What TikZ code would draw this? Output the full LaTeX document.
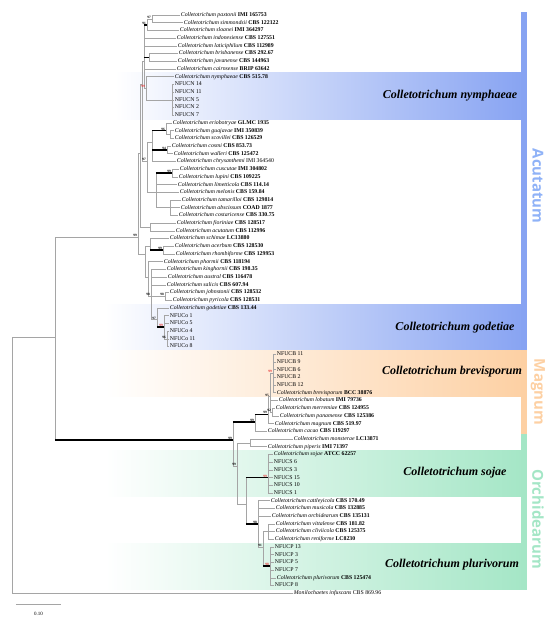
\documentclass[tikz,border=0pt]{standalone}
\usepackage{fontspec}
\setmainfont{Liberation Serif}
\newfontfamily\cladesans{Open Sans}
\definecolor{acublue}{RGB}{135,163,242}
\definecolor{acutext}{RGB}{143,178,247}
\definecolor{magorange}{RGB}{253,208,163}
\definecolor{orcgreen}{RGB}{164,230,198}
\definecolor{branchgray}{RGB}{165,165,165}
\definecolor{bsred}{RGB}{230,40,40}
\newcommand\ct[2]{\textit{Colletotrichum #1} \textbf{#2}}

\begin{document}
\begin{tikzpicture}[x=1pt,y=-7.71pt,
  br/.style={draw=branchgray,line width=0.6pt},
  hi/.style={draw=black,line width=1.6pt},
  tip/.style={anchor=west,inner sep=0.7pt,font=\fontsize{5.8}{6}\selectfont,text height=3.9pt,text depth=1.1pt},
  bsl/.style={anchor=south east,inner sep=0.3pt,xshift=-0.6pt,font=\fontsize{3.4}{4}\selectfont\bfseries},
  redbsl/.style={bsl,text=bsred},
  cname/.style={font=\fontsize{12}{12}\selectfont\bfseries\itshape},
  grpname/.style={rotate=-90,font=\cladesans\bfseries\fontsize{15}{15}\selectfont}]
\useasboundingbox (0,-1.946) rectangle (550,78.6);

% coloured bands and bars
\shade[left color=white,right color=acublue] (115,7.5) rectangle (527,13.5);
\shade[left color=white,right color=acublue] (105,37.5) rectangle (527,43.5);
\shade[left color=white,right color=magorange] (105,43.5) rectangle (527,49.5);
\shade[left color=white,right color=orcgreen] (105,56.5) rectangle (527,62.5);
\shade[left color=white,right color=orcgreen] (105,68.5) rectangle (527,74.5);
\fill[acublue] (521,-0.4) rectangle (527,43.5);
\fill[magorange] (521,43.5) rectangle (527,54.3);
\fill[orcgreen] (521,54.3) rectangle (527,74.5);

\node[cname] (lnym) at (450,10.5) {Colletotrichum nymphaeae};
\node[cname] (lgod) at (455,40.5) {Colletotrichum godetiae};
\node[cname] (lbre) at (452,46.3) {Colletotrichum brevisporum};
\node[cname] (lsoj) at (455,59.4) {Colletotrichum sojae};
\node[cname] (lplu) at (452,71.3) {Colletotrichum plurivorum};
\node[grpname,text=acutext] (gacu) at (538,22.2) {Acutatum};
\node[grpname,text=magorange] (gmag) at (538,48.9) {Magnum};
\node[grpname,text=orcgreen] (gorc) at (538,65.4) {Orchidearum};

% internal nodes
\coordinate (nRoot) at (12,60);
\coordinate (nIn) at (55,41.8);
\coordinate (nAcu) at (138,28.8);
\coordinate (nA) at (140,18);
\coordinate (nC2) at (142,9);
\coordinate (nN) at (144,6);
\coordinate (nP) at (147,1.3);
\coordinate (nP1) at (152,0.5);
\coordinate (nQ) at (149,5.5);
\coordinate (nNym) at (146,9.5);
\coordinate (nNF) at (172,11);
\coordinate (nM) at (147,19);
\coordinate (nN2) at (152,16.5);
\coordinate (nE) at (166,15);
\coordinate (nG) at (170,15.5);
\coordinate (nCw) at (167,17.5);
\coordinate (nLu) at (156,23);
\coordinate (nLu1) at (172,20.5);
\coordinate (nT) at (170,25);
\coordinate (nAF) at (150,27.5);
\coordinate (nB) at (145,31);
\coordinate (nS) at (150,30);
\coordinate (nAR) at (163,30.5);
\coordinate (nB2) at (148,34);
\coordinate (nB3) at (151,36.5);
\coordinate (nJP) at (165,36.5);
\coordinate (nGD) at (157,39.5);
\coordinate (nNFo) at (164,40.5);
\coordinate (nNFo2) at (167,42);
\coordinate (nMO) at (233,55.1);
\coordinate (nMG) at (255,52.8);
\coordinate (nMG1) at (268,51.8);
\coordinate (nMG2) at (270,49.5);
\coordinate (nBR) at (273,46.5);
\coordinate (nMG3) at (272,51.5);
\coordinate (nOR) at (237,58.5);
\coordinate (nOA) at (250,55.5);
\coordinate (nOB) at (246,63.5);
\coordinate (nSJ) at (268,60);
\coordinate (nOC) at (258,66);
\coordinate (nOD) at (263,69);
\coordinate (nOE) at (268,67);
\coordinate (nPL) at (270,71.5);

% tips
\node[tip] (pax) at (180,0) {\ct{paxtonii}{IMI 165753}};
\node[tip] (sim) at (183,1) {\ct{simmondsii}{CBS 122122}};
\node[tip] (slo) at (179,2) {\ct{sloanei}{IMI 364297}};
\node[tip] (ind) at (176,3) {\ct{indonesiense}{CBS 127551}};
\node[tip] (lat) at (177,4) {\ct{laticiphilum}{CBS 112989}};
\node[tip] (bri) at (178,5) {\ct{brisbanense}{CBS 292.67}};
\node[tip] (jav) at (177,6) {\ct{javanense}{CBS 144963}};
\node[tip] (cai) at (176,7) {\ct{cairnsense}{BRIP 63642}};
\node[tip] (nym) at (174,8) {\ct{nymphaeae}{CBS 515.78}};
\node[tip] (ncn14) at (174,9) {NFUCN 14};
\node[tip] (ncn11) at (174,10) {NFUCN 11};
\node[tip] (ncn5) at (174,11) {NFUCN 5};
\node[tip] (ncn2) at (174,12) {NFUCN 2};
\node[tip] (ncn7) at (174,13) {NFUCN 7};
\node[tip] (eri) at (172,14) {\ct{eriobotryae}{GLMC 1935}};
\node[tip] (gua) at (174,15) {\ct{guajavae}{IMI 350839}};
\node[tip] (sco) at (174,16) {\ct{scovillei}{CBS 126529}};
\node[tip] (cos) at (171,17) {\ct{cosmi}{CBS 853.73}};
\node[tip] (wal) at (173,18) {\ct{walleri}{CBS 125472}};
\node[tip] (chr) at (176,19) {\textit{Colletotrichum chrysanthemi} IMI 364540};
\node[tip] (cus) at (179,20) {\ct{cuscutae}{IMI 304802}};
\node[tip] (lup) at (178,21) {\ct{lupini}{CBS 109225}};
\node[tip] (lim) at (177,22) {\ct{limetticola}{CBS 114.14}};
\node[tip] (mel) at (179,23) {\ct{melonis}{CBS 159.84}};
\node[tip] (tam) at (181,24) {\ct{tamarilloi}{CBS 129814}};
\node[tip] (abs) at (180,25) {\ct{abscissum}{COAD 1877}};
\node[tip] (cst) at (178,26) {\ct{costaricense}{CBS 330.75}};
\node[tip] (fio) at (176,27) {\ct{fioriniae}{CBS 128517}};
\node[tip] (acu) at (175,28) {\ct{acutatum}{CBS 112996}};
\node[tip] (sch) at (169,29) {\ct{schimae}{LC13880}};
\node[tip] (ace) at (174,30) {\ct{acerbum}{CBS 128530}};
\node[tip] (rho) at (175,31) {\ct{rhombiforme}{CBS 129953}};
\node[tip] (pho) at (163,32) {\ct{phormii}{CBS 118194}};
\node[tip] (kin) at (166,33) {\ct{kinghornii}{CBS 198.35}};
\node[tip] (aus) at (167,34) {\ct{austral}{CBS 116478}};
\node[tip] (sal) at (166,35) {\ct{salicis}{CBS 607.94}};
\node[tip] (joh) at (169,36) {\ct{johnstonii}{CBS 128532}};
\node[tip] (pyr) at (172,37) {\ct{pyricola}{CBS 128531}};
\node[tip] (god) at (169,38) {\ct{godetiae}{CBS 133.44}};
\node[tip] (nco1) at (169,39) {NFUCo 1};
\node[tip] (nco5) at (169,40) {NFUCo 5};
\node[tip] (nco4) at (169,41) {NFUCo 4};
\node[tip] (nco11) at (169,42) {NFUCo 11};
\node[tip] (nco8) at (169,43) {NFUCo 8};
\node[tip] (ncb11) at (276,44) {NFUCB 11};
\node[tip] (ncb9) at (276,45) {NFUCB 9};
\node[tip] (ncb6) at (276,46) {NFUCB 6};
\node[tip] (ncb2) at (276,47) {NFUCB 2};
\node[tip] (ncb12) at (276,48) {NFUCB 12};
\node[tip] (bre) at (276,49) {\ct{brevisporum}{BCC 38876}};
\node[tip] (lob) at (278,50) {\ct{lobatum}{IMI 79736}};
\node[tip] (mer) at (275,51) {\ct{merremiae}{CBS 124955}};
\node[tip] (pan) at (279,52) {\ct{panamense}{CBS 125386}};
\node[tip] (mag) at (274,53) {\ct{magnum}{CBS 519.97}};
\node[tip] (cac) at (267,54) {\ct{cacao}{CBS 119297}};
\node[tip] (mon) at (293,55) {\ct{monsterae}{LC13871}};
\node[tip] (pip) at (267,56) {\ct{piperis}{IMI 71397}};
\node[tip] (soj) at (273,57) {\ct{sojae}{ATCC 62257}};
\node[tip] (ncs6) at (273,58) {NFUCS 6};
\node[tip] (ncs3) at (273,59) {NFUCS 3};
\node[tip] (ncs15) at (273,60) {NFUCS 15};
\node[tip] (ncs10) at (273,61) {NFUCS 10};
\node[tip] (ncs1) at (273,62) {NFUCS 1};
\node[tip] (cat) at (270,63) {\ct{cattleyicola}{CBS 170.49}};
\node[tip] (mus) at (275,64) {\ct{musicola}{CBS 132885}};
\node[tip] (orc) at (271,65) {\ct{orchidearum}{CBS 135131}};
\node[tip] (vit) at (275,66) {\ct{vittalense}{CBS 181.82}};
\node[tip] (cli) at (275,67) {\ct{cliviicola}{CBS 125375}};
\node[tip] (ren) at (274,68) {\ct{reniforme}{LC8230}};
\node[tip] (ncp13) at (274,69) {NFUCP 13};
\node[tip] (ncp3) at (274,70) {NFUCP 3};
\node[tip] (ncp5) at (274,71) {NFUCP 5};
\node[tip] (ncp7) at (274,72) {NFUCP 7};
\node[tip] (plu) at (276,73) {\ct{plurivorum}{CBS 125474}};
\node[tip] (ncp8) at (274,74) {NFUCP 8};
\node[tip] (moni) at (293,75) {\textit{Monilochaetes infuscans} CBS 869.96};

% branches
\draw[br] (nRoot) |- (nIn) (nRoot) |- (moni.west);
\draw[br] (nIn) |- (nAcu) (nIn) |- (nMO);
\draw[br] (nAcu) |- (nA) (nAcu) |- (nB);
\draw[br] (nA) |- (nC2) (nA) |- (nAF);
\draw[br] (nC2) |- (nN) (nC2) |- (nM);
\draw[br] (nN) |- (nP) (nN) |- (ind.west) (nN) |- (lat.west) (nN) |- (nQ) (nN) |- (cai.west) (nN) |- (nNym);
\draw[br] (nP) |- (nP1) (nP) |- (slo.west);
\draw[br] (nP1) |- (pax.west) (nP1) |- (sim.west);
\draw[br] (nQ) |- (bri.west) (nQ) |- (jav.west);
\draw[br] (nNym) |- (nym.west) (nNym) |- (nNF);
\draw[br] (nNF) |- (ncn14.west) (nNF) |- (ncn11.west) (nNF) |- (ncn5.west) (nNF) |- (ncn2.west) (nNF) |- (ncn7.west);
\draw[br] (nM) |- (nN2) (nM) |- (nLu);
\draw[br] (nN2) |- (nE) (nN2) |- (nCw) (nN2) |- (chr.west);
\draw[br] (nE) |- (eri.west) (nE) |- (nG);
\draw[br] (nG) |- (gua.west) (nG) |- (sco.west);
\draw[br] (nCw) |- (cos.west) (nCw) |- (wal.west);
\draw[br] (nLu) |- (nLu1) (nLu) |- (lim.west) (nLu) |- (mel.west) (nLu) |- (nT);
\draw[br] (nLu1) |- (cus.west) (nLu1) |- (lup.west);
\draw[br] (nT) |- (tam.west) (nT) |- (abs.west) (nT) |- (cst.west);
\draw[br] (nAF) |- (fio.west) (nAF) |- (acu.west);
\draw[br] (nB) |- (nS) (nB) |- (nB2);
\draw[br] (nS) |- (sch.west) (nS) |- (nAR);
\draw[br] (nAR) |- (ace.west) (nAR) |- (rho.west);
\draw[br] (nB2) |- (pho.west) (nB2) |- (nB3);
\draw[br] (nB3) |- (kin.west) (nB3) |- (aus.west) (nB3) |- (sal.west) (nB3) |- (nJP) (nB3) |- (nGD);
\draw[br] (nJP) |- (joh.west) (nJP) |- (pyr.west);
\draw[br] (nGD) |- (god.west) (nGD) |- (nNFo);
\draw[br] (nNFo) |- (nco1.west) (nNFo) |- (nco5.west) (nNFo) |- (nNFo2);
\draw[br] (nNFo2) |- (nco4.west) (nNFo2) |- (nco11.west) (nNFo2) |- (nco8.west);
\draw[br] (nMO) |- (nMG) (nMO) |- (nOR);
\draw[br] (nMG) |- (nMG1) (nMG) |- (cac.west);
\draw[br] (nMG1) |- (nMG2) (nMG1) |- (mag.west);
\draw[br] (nMG2) |- (nBR) (nMG2) |- (lob.west) (nMG2) |- (nMG3);
\draw[br] (nBR) |- (ncb11.west) (nBR) |- (ncb9.west) (nBR) |- (ncb6.west) (nBR) |- (ncb2.west) (nBR) |- (ncb12.west) (nBR) |- (bre.west);
\draw[br] (nMG3) |- (mer.west) (nMG3) |- (pan.west);
\draw[br] (nOR) |- (nOA) (nOR) |- (nOB);
\draw[br] (nOA) |- (mon.west) (nOA) |- (pip.west);
\draw[br] (nOB) |- (nSJ) (nOB) |- (nOC);
\draw[br] (nSJ) |- (soj.west) (nSJ) |- (ncs6.west) (nSJ) |- (ncs3.west) (nSJ) |- (ncs15.west) (nSJ) |- (ncs10.west) (nSJ) |- (ncs1.west);
\draw[br] (nOC) |- (cat.west) (nOC) |- (mus.west) (nOC) |- (orc.west) (nOC) |- (nOD);
\draw[br] (nOD) |- (nOE) (nOD) |- (nPL);
\draw[br] (nOE) |- (vit.west) (nOE) |- (cli.west) (nOE) |- (ren.west);
\draw[br] (nPL) |- (ncp13.west) (nPL) |- (ncp3.west) (nPL) |- (ncp5.west) (nPL) |- (ncp7.west) (nPL) |- (plu.west) (nPL) |- (ncp8.west);

% well supported stems
\draw[hi] (nN |- nP) -- (nP);
\draw[hi] (nN |- nQ) -- (nQ);
\draw[hi] (nN2 |- nE) -- (nE);
\draw[hi] (nN2 |- nCw) -- (nCw);
\draw[hi] (nLu |- nLu1) -- (nLu1);
\draw[hi] (nS |- nAR) -- (nAR);
\draw[hi] (nGD |- nNFo) -- (nNFo);
\draw[hi] (nIn |- nMO) -- (nMO);
\draw[hi] (nMO |- nMG) -- (nMG);
\draw[hi] (nMG |- nMG1) -- (nMG1);
\draw[hi] (nOB |- nSJ) -- (nSJ);
\draw[hi] (nOB |- nOC) -- (nOC);
\draw[hi] (nOD |- nPL) -- (nPL);

% bootstrap values
\node[bsl] (b1) at (nP1) {97};
\node[bsl] (b2) at (nP) {91};
\node[redbsl] (b3) at (nNym) {99};
\node[bsl] (b4) at (nE) {96};
\node[bsl] (b5) at (nCw) {94};
\node[bsl] (b6) at (nM) {97};
\node[bsl] (b7) at (nLu1) {99};
\node[bsl] (b8) at (nAcu) {99};
\node[bsl] (b9) at (nAR) {99};
\node[bsl] (b10) at (nB3) {98};
\node[bsl] (b11) at (nJP) {98};
\node[bsl] (b12) at (nGD) {97};
\node[redbsl] (b13) at (nNFo) {99};
\node[bsl] (b14) at (nNFo2) {96};
\node[bsl] (b15) at (nMO) {99};
\node[bsl] (b16) at (nMG) {99};
\node[bsl] (b17) at (nMG1) {99};
\node[bsl] (b18) at (nMG2) {95};
\node[bsl] (b19) at (nMG3) {92};
\node[redbsl] (b20) at (nBR) {99};
\node[bsl] (b21) at (nOR) {99};
\node[redbsl] (b22) at (nSJ) {99};
\node[bsl] (b23) at (nOC) {98};
\node[bsl] (b24) at (nOD) {91};
\node[redbsl] (b25) at (nPL) {98};

% scale bar
\coordinate (sbl) at (16,76.4);
\coordinate (sbr) at (61,76.4);
\draw[br] (sbl) -- (sbr);
\node[font=\fontsize{5}{5}\selectfont] (sbt) at (38.5,77.7) {0.10};
\end{tikzpicture}
\end{document}
